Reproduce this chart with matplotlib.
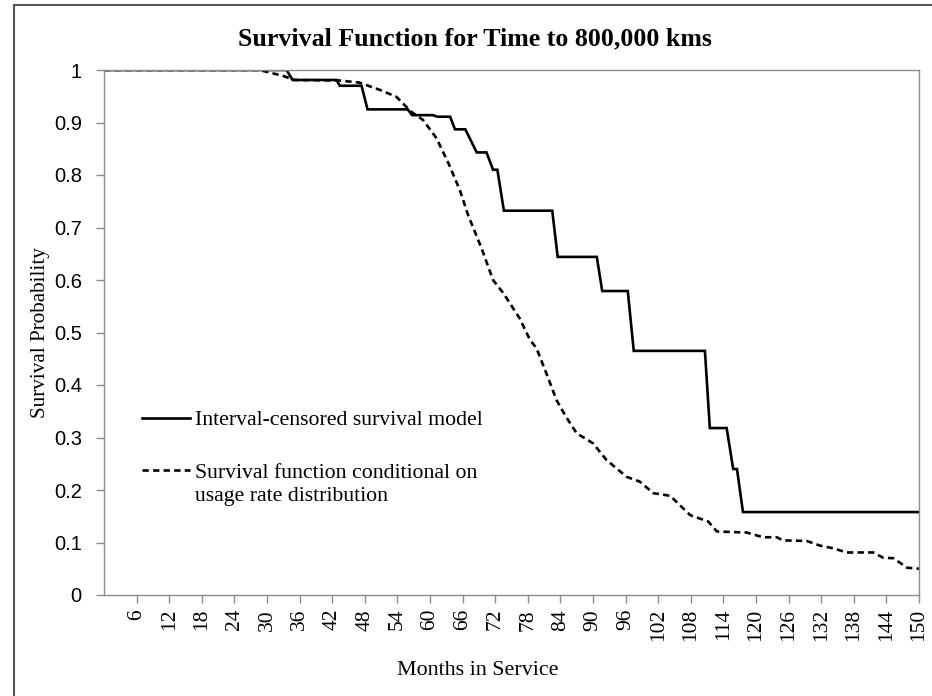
import numpy as np
import matplotlib
matplotlib.use("Agg")
import matplotlib.pyplot as plt
from matplotlib.lines import Line2D

# interval-censored model (vertices)
ic_months = [0, 33.6, 34.7, 42.8, 43.4, 47.4, 48.5, 55.9, 56.7, 60.5, 61.4, 63.7, 64.6,
             66.5, 68.6, 70.4, 71.6, 72.4, 73.6, 82.5, 83.5, 90.7, 91.7, 96.4, 97.5,
             110.6, 111.5, 114.6, 115.8, 116.5, 117.6, 150]
ic_surv = [1.0, 1.0, 0.981, 0.981, 0.970, 0.970, 0.925, 0.925, 0.914, 0.914, 0.911, 0.911, 0.887,
           0.887, 0.843, 0.843, 0.810, 0.810, 0.732, 0.732, 0.644, 0.644, 0.579, 0.579, 0.465,
           0.465, 0.318, 0.318, 0.240, 0.240, 0.158, 0.158]

# survival conditional on usage rate distribution
cu_months = [0, 28.6, 32.9, 35.0, 43.4, 47.0, 50.8, 53.8, 56.6, 58.7, 61.2, 63.5, 65.5, 67.0,
             69.5, 71.6, 73.5, 76.5, 78.4, 79.6, 81.5, 83.3, 85.0, 87.0, 90.0, 92.5, 96.2,
             98.6, 101.1, 104.2, 107.9, 111.2, 112.8, 118.3, 121.3, 123.8, 125.0, 129.3,
             131.8, 134.2, 136.7, 141.6, 143.4, 145.3, 147.8, 150]
cu_surv = [1.0, 1.0, 0.989, 0.981, 0.980, 0.976, 0.962, 0.949, 0.920, 0.905, 0.870, 0.820,
           0.771, 0.724, 0.660, 0.600, 0.575, 0.527, 0.486, 0.470, 0.420, 0.371, 0.340,
           0.308, 0.289, 0.257, 0.225, 0.216, 0.194, 0.189, 0.152, 0.140, 0.121, 0.119,
           0.110, 0.110, 0.104, 0.103, 0.094, 0.089, 0.081, 0.081, 0.071, 0.070, 0.052, 0.050]

x_ticks = list(range(6, 151, 6))
y_ticks = [0, 0.1, 0.2, 0.3, 0.4, 0.5, 0.6, 0.7, 0.8, 0.9, 1]
y_labels = ["0", "0.1", "0.2", "0.3", "0.4", "0.5", "0.6", "0.7", "0.8", "0.9", "1"]

serif = "Liberation Serif"
sans = "Liberation Sans"
grey = "#8c8c8c"

fig = plt.figure(figsize=(9.32, 6.96), dpi=100)
ax = fig.add_axes([104 / 932, 101 / 696, 815 / 932, 525 / 696])

ax.plot(ic_months, ic_surv, color="black", lw=1.9, solid_joinstyle="miter",
        label="Interval-censored survival model")
ax.plot(cu_months, cu_surv, color="black", lw=1.9, dashes=(2.4, 1.6),
        label="Survival function conditional on")

ax.set_xlim(0, 150)
ax.set_ylim(0, 1)
ax.set_xticks(x_ticks)
ax.set_xticklabels([str(t) for t in x_ticks], rotation=90, family=serif, fontsize=15.5)
ax.set_yticks(y_ticks)
ax.set_yticklabels(y_labels, family=sans, fontsize=14.5)
ax.tick_params(axis="both", color=grey, length=6, width=1, direction="out")
ax.tick_params(axis="x", pad=4)
ax.tick_params(axis="y", pad=10)
for s in ax.spines.values():
    s.set_color(grey)
    s.set_linewidth(1)

ax.set_xlabel("Months in Service", family=serif, fontsize=15.8, labelpad=14)
ax.xaxis.label.set_x((478 - 104) / 815)
ax.set_ylabel("Survival Probability", family=serif, fontsize=15.2, labelpad=3)
ax.set_title("Survival Function for Time to 800,000 kms", family=serif,
             fontsize=18.6, fontweight="bold", pad=18, x=(475 - 104) / 815)

leg = ax.legend(loc="upper left", bbox_to_anchor=(38 / 815, 0.352), frameon=False,
                borderaxespad=0, borderpad=0,
                prop={"family": serif, "size": 15.7}, handlelength=2.2,
                handletextpad=0.23, labelspacing=1.47)

# second line of the dashed-series label sits under the first
ax.annotate("usage rate distribution", xy=(0, 0), xycoords=leg.get_texts()[1],
            xytext=(0, -4), textcoords="offset pixels", va="top", ha="left",
            family=serif, fontsize=15.7, zorder=6)

# outer frame lines (top and left)
fig.add_artist(Line2D([14 / 932, 14 / 932], [0, 1 - 5 / 696], color="#555555", lw=1.5))
fig.add_artist(Line2D([14 / 932, 1], [1 - 5 / 696, 1 - 5 / 696], color="#555555", lw=1.5))

fig.savefig("out.png", dpi=100)
